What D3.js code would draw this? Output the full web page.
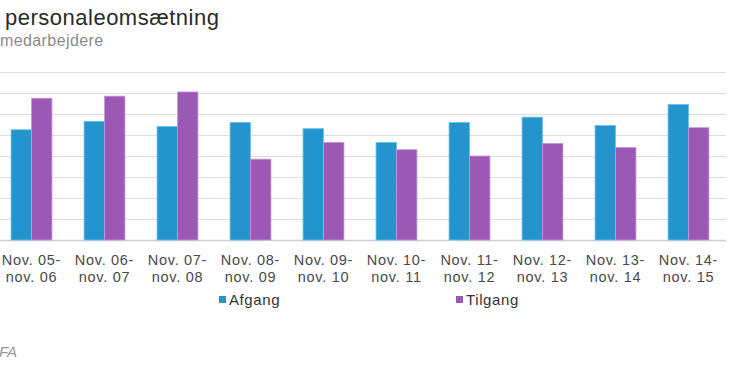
<!DOCTYPE html>
<html>
<head>
<meta charset="utf-8">
<script src="https://cdn.jsdelivr.net/npm/d3@7"></script>
<style>
  body { margin: 0; background: #fff; }
  svg { display: block; font-family: "Liberation Sans", Arial, sans-serif; }
</style>
</head>
<body>
<div id="chart"></div>
<script>
'use strict';

// ------------------------------------
// DATA
// ------------------------------------
const periods = [
  ["Nov. 05-", "nov. 06"], ["Nov. 06-", "nov. 07"], ["Nov. 07-", "nov. 08"],
  ["Nov. 08-", "nov. 09"], ["Nov. 09-", "nov. 10"], ["Nov. 10-", "nov. 11"],
  ["Nov. 11-", "nov. 12"], ["Nov. 12-", "nov. 13"], ["Nov. 13-", "nov. 14"],
  ["Nov. 14-", "nov. 15"]
];
const afgang  = [10.5, 11.3, 10.8, 11.2, 10.6, 9.3, 11.2, 11.7, 10.9, 12.9];
const tilgang = [13.5, 13.7, 14.1, 7.7, 9.3, 8.6, 8.0, 9.2, 8.8, 10.7];
const seriesNames = ["Afgang", "Tilgang"];
const yTicks = [0, 2, 4, 6, 8, 10, 12, 14, 16];

// ------------------------------------
// SETUP
// ------------------------------------
const width = 730;
const height = 365;
const color = d3.scaleOrdinal().domain(seriesNames).range(["#2494cf", "#9b59b5"]);

const svg = d3.select("#chart").append("svg")
  .attr("width", width)
  .attr("height", height);

const x0 = d3.scaleBand()
  .domain(periods.map((d, i) => i))
  .range([-5, 725])
  .paddingInner(0.44)
  .paddingOuter(0.22);

const x1 = d3.scaleBand()
  .domain(seriesNames)
  .range([0, x0.bandwidth()]);

const y = d3.scaleLinear().domain([0, 16]).range([240, 72]);

// Title / subtitle (left part is cut off in the original)
svg.append("text")
  .attr("x", 5).attr("y", 25)
  .attr("font-size", 22).attr("fill", "#2a2a2a")
  .attr("letter-spacing", 0.5)
  .text("personaleomsætning");

svg.append("text")
  .attr("x", 0).attr("y", 46)
  .attr("font-size", 16).attr("fill", "#8a8a8a")
  .attr("letter-spacing", 0.4)
  .text("medarbejdere");

// Gridlines
svg.append("g")
  .selectAll("line")
  .data(yTicks)
  .join("line")
  .attr("x1", -5).attr("x2", 726)
  .attr("y1", d => Math.round(y(d)) + 0.5)
  .attr("y2", d => Math.round(y(d)) + 0.5)
  .attr("stroke", d => d === 0 ? "#cfcfcf" : "#dedede")
  .attr("stroke-width", d => d === 0 ? 1.5 : 1);

// Bars
const rows = periods.map((p, i) => ({ i, values: [afgang[i], tilgang[i]] }));

svg.append("g")
  .selectAll("g")
  .data(rows)
  .join("g")
  .attr("transform", d => `translate(${x0(d.i)},0)`)
  .selectAll("rect")
  .data(d => d.values.map((v, k) => ({ key: seriesNames[k], value: v })))
  .join("rect")
  .attr("x", d => x1(d.key))
  .attr("y", d => y(d.value))
  .attr("width", x1.bandwidth())
  .attr("height", d => y(0) - y(d.value))
  .attr("fill", d => color(d.key))
  .attr("stroke", d => d.key === "Afgang" ? "#6cc0ea" : "#c49ad6")
  .attr("stroke-width", 0.8);

// Category labels (two lines)
const labels = svg.append("g")
  .selectAll("text")
  .data(periods)
  .join("text")
  .attr("x", (d, i) => x0(i) + x0.bandwidth() / 2)
  .attr("y", 265)
  .attr("text-anchor", "middle")
  .attr("font-size", 14.5)
  .attr("letter-spacing", 0.7)
  .attr("fill", "#4a4a4a");

labels.append("tspan")
  .attr("x", (d, i) => x0(i) + x0.bandwidth() / 2)
  .text(d => d[0]);
labels.append("tspan")
  .attr("x", (d, i) => x0(i) + x0.bandwidth() / 2)
  .attr("dy", 17)
  .text(d => d[1]);

// Legend
const legendX = [219, 456];
const legend = svg.append("g")
  .selectAll("g")
  .data(seriesNames)
  .join("g")
  .attr("transform", (d, i) => `translate(${legendX[i]},300)`);

legend.append("rect")
  .attr("x", 0).attr("y", -4)
  .attr("width", 7).attr("height", 7)
  .attr("fill", d => color(d));

legend.append("text")
  .attr("x", 10).attr("y", 5)
  .attr("font-size", 15)
  .attr("letter-spacing", 0.6)
  .attr("fill", "#333")
  .text(d => d);

// Source (cut off)
svg.append("text")
  .attr("x", -1).attr("y", 357)
  .attr("font-size", 15)
  .attr("font-style", "italic")
  .attr("fill", "#999")
  .text("FA");
</script>
</body>
</html>
